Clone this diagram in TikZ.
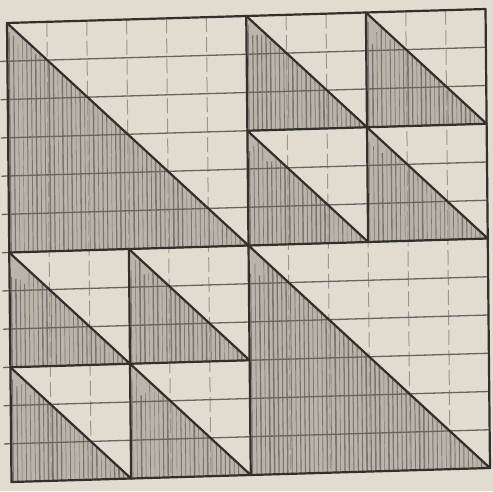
\documentclass[tikz,border=0pt]{standalone}
\definecolor{paper}{RGB}{226,219,207}
\definecolor{shadec}{RGB}{186,180,170}
\definecolor{hatchc}{RGB}{122,117,110}
\definecolor{pencil}{RGB}{50,47,44}
\definecolor{hgridc}{RGB}{105,100,95}
\definecolor{vgridc}{RGB}{155,149,141}
\tikzset{
  mainline/.style={pencil, line width=2.2pt, line cap=round, line join=round},
  hgridline/.style={hgridc, line width=1.3pt},
  vgridline/.style={vgridc, line width=1pt, dash pattern=on 15pt off 5pt},
  hatchline/.style={hatchc, line width=1pt},
}
\begin{document}
\begin{tikzpicture}[x=1pt,y=-1pt]
\fill[paper] (0,0) rectangle (493,491);
\useasboundingbox (0,0) rectangle (493,491);
\begin{scope}[shift={(7,23)}, x={(478.5pt,14pt)}, y={(4.5pt,-459pt)}]
  % shaded triangles with pencil hatching
  \foreach \a/\b/\s in {0/0/0.5, 0.5/0/0.25, 0.75/0/0.25, 0.5/0.25/0.25, 0.75/0.25/0.25,
                        0/0.5/0.25, 0.25/0.5/0.25, 0/0.75/0.25, 0.25/0.75/0.25, 0.5/0.5/0.5}{
    \fill[shadec] (\a,\b) -- (\a,{\b+\s}) -- ({\a+\s},{\b+\s}) -- cycle;
    \begin{scope}
      \clip (\a,\b) -- (\a,{\b+\s}) -- ({\a+\s},{\b+\s}) -- cycle;
      \foreach \k in {0,...,56}{
        \pgfmathsetmacro{\w}{0.4+1.2*rnd}
        \pgfmathsetmacro{\t}{0.01+0.06*rnd}
        \draw[hatchline, line width=\w pt] ({\a+0.004+\k*0.0092},{\b+\t}) -- ({\a+0.004+\k*0.0092},{\b+\s});
      }
    \end{scope}
  }
  % graph paper grid
  \foreach \i in {1,...,11}{
    \draw[vgridline] ({\i/12},0) -- ({\i/12},1);
  }
  \foreach \i in {1,...,11}{
    \draw[hgridline] (-0.015,{\i/12}) -- (1,{\i/12});
  }
  % main pencil lines
  \coordinate (TL) at (0,0);
  \coordinate (TR) at (1,0);
  \coordinate (BL) at (0,1);
  \coordinate (BR) at (1,1);
  \draw[mainline] (TL) -- (TR) -- (BR) -- (BL) -- cycle;
  \draw[mainline] (0.5,0) -- (0.5,1);
  \draw[mainline] (0,0.5) -- (1,0.5);
  \draw[mainline] (0.75,0) -- (0.75,0.5);
  \draw[mainline] (0.5,0.25) -- (1,0.25);
  \draw[mainline] (0.25,0.5) -- (0.25,1);
  \draw[mainline] (0,0.75) -- (0.5,0.75);
  % diagonals
  \draw[mainline] (0,0) -- (0.5,0.5);
  \draw[mainline] (0.5,0.5) -- (1,1);
  \foreach \a/\b in {0.5/0, 0.75/0, 0.5/0.25, 0.75/0.25, 0/0.5, 0.25/0.5, 0/0.75, 0.25/0.75}{
    \draw[mainline] (\a,\b) -- ({\a+0.25},{\b+0.25});
  }
\end{scope}
\end{tikzpicture}
\end{document}
